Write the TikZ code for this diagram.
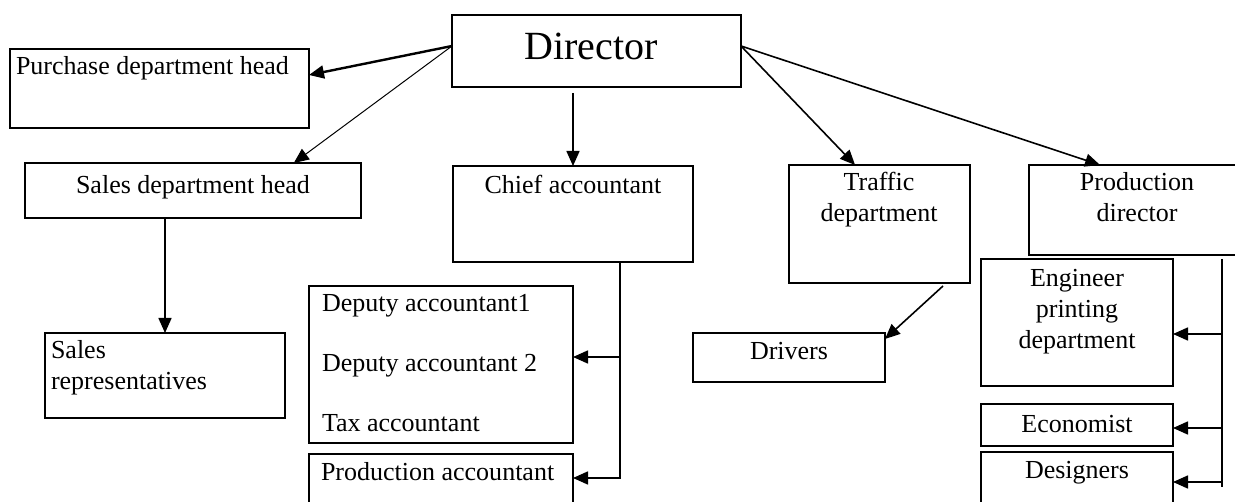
\documentclass[tikz,border=0pt]{standalone}
\usepackage{fontspec}
\setmainfont{Liberation Serif}
\usetikzlibrary{arrows.meta,calc}
\begin{document}
\begin{tikzpicture}[x=1bp,y=-1bp,
  box/.style={draw, line width=1.6bp, inner sep=0pt, outer sep=0pt, anchor=north west},
  lbl/.style={font=\fontsize{26bp}{31bp}\selectfont, inner sep=0pt, outer sep=0pt, align=center, anchor=north},
  lbll/.style={lbl, align=left, anchor=north west},
  link/.style={line width=1.6bp, -{Triangle[length=15bp,width=13bp]}},
  wire/.style={line width=1.6bp},
]
\useasboundingbox (0,0) rectangle (1235,502);

% boxes
\node[box, minimum width=289bp, minimum height=72bp]  (dir) at (452,15)  {};
\node[box, minimum width=299bp, minimum height=79bp]  (pur) at (10,49)   {};
\node[box, minimum width=336bp, minimum height=55bp]  (sal) at (25,163)  {};
\node[box, minimum width=240bp, minimum height=96bp]  (chf) at (453,166) {};
\node[box, minimum width=181bp, minimum height=118bp] (trf) at (789,165) {};
\node[box, minimum width=216bp, minimum height=90bp]  (pdr) at (1029,165) {};
\node[box, minimum width=240bp, minimum height=85bp]  (rep) at (45,333)  {};
\node[box, minimum width=264bp, minimum height=157bp] (dep) at (309,286) {};
\node[box, minimum width=264bp, minimum height=70bp]  (pac) at (309,454) {};
\node[box, minimum width=192bp, minimum height=49bp]  (drv) at (693,333) {};
\node[box, minimum width=192bp, minimum height=127bp] (eng) at (981,259) {};
\node[box, minimum width=192bp, minimum height=42bp]  (eco) at (981,404) {};
\node[box, minimum width=192bp, minimum height=68bp]  (des) at (981,452) {};

% texts
\node[lbl, font=\fontsize{40bp}{48bp}\selectfont] (dir-t) at (591,33) {Director};
\node[lbll] (pur-t) at (16,56)   {Purchase department head};
\node[lbl]  (sal-t) at (193,175) {Sales department head};
\node[lbl]  (chf-t) at (573,175) {Chief accountant};
\node[lbl]  (trf-t) at (879,172) {Traffic\\department};
\node[lbl]  (pdr-t) at (1137,172) {Production\\director};
\node[lbll] (rep-t) at (51,340)  {Sales\\representatives};
\node[lbll] (dep-t) at (322,294) {Deputy accountant1\\[29bp]Deputy accountant 2\\[29bp]Tax accountant};
\node[lbll] (pac-t) at (321,462) {Production accountant};
\node[lbl]  (drv-t) at (789,342) {Drivers};
\node[lbl]  (eng-t) at (1077,269) {Engineer\\printing\\department};
\node[lbl]  (eco-t) at (1077,415) {Economist};
\node[lbl]  (des-t) at (1077,461) {Designers};

% connectors from the director
\draw[link, line width=2.4bp] ([yshift=5bp]dir.west) -- ([yshift=13.5bp]pur.east);
\draw[link, line width=1bp] ([yshift=5bp]dir.west) -- ($(sal.north west)!0.8!(sal.north east)$);
\coordinate (chf-in) at ($(chf.north)+(0,-73)$);
\draw[link] (chf-in) -- (chf.north);
\draw[link] ([yshift=5bp]dir.east) -- ($(trf.north west)!0.365!(trf.north east)$);
\draw[link] ([yshift=5bp]dir.east) -- ($(pdr.north west)!0.329!(pdr.north east)$);

% sales
\draw[link] (sal.south -| rep.north) -- (rep.north);

% accounting
\coordinate (cbus) at ($(chf.south)+(47,0)$);
\coordinate (dep-in) at ([yshift=7.5bp]dep.east);
\coordinate (pac-in) at ([yshift=11bp]pac.east);
\draw[link] (cbus) |- (pac-in);
\draw[link] (cbus |- dep-in) -- (dep-in);

% traffic
\draw[link] ($(trf.south)+(63.5,3)$) -- ([yshift=-6bp]drv.north east);

% production
\coordinate (pbt) at ($(eng.north east)+(49,0)$);
\coordinate (pbb) at ($(des.north east)+(49,35)$);
\coordinate (eng-in) at ([yshift=-11.5bp]eng.east);
\coordinate (eco-in) at ([yshift=-3bp]eco.east);
\coordinate (des-in) at ([yshift=4bp]des.east);
\draw[wire] (pbt) -- (pbb);
\draw[link] (pbt |- eng-in) -- (eng-in);
\draw[link] (pbt |- eco-in) -- (eco-in);
\draw[link] (pbt |- des-in) -- (des-in);
\end{tikzpicture}
\end{document}
